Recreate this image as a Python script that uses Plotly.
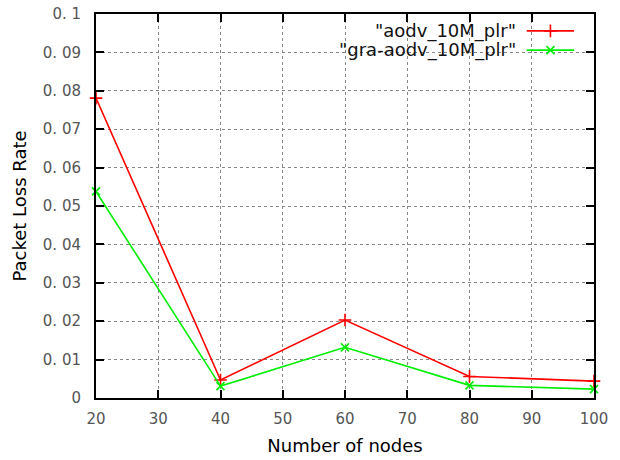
import plotly.graph_objects as go

nodes = [20, 40, 60, 80, 100]
aodv_plr = [0.0781, 0.0047, 0.0203, 0.0056, 0.0044]
gra_aodv_plr = [0.0538, 0.0031, 0.0132, 0.0033, 0.0023]
series_names = ['"aodv_10M_plr"', '"gra-aodv_10M_plr"']

y_ticks = [0, 0.01, 0.02, 0.03, 0.04, 0.05, 0.06, 0.07, 0.08, 0.09, 0.1]
y_tick_labels = ["0", "0. 01", "0. 02", "0. 03", "0. 04", "0. 05", "0. 06", "0. 07", "0. 08", "0. 09", "0. 1"]
x_ticks = [20, 30, 40, 50, 60, 70, 80, 90, 100]

RED = "#ff0000"
GREEN = "#00ee00"
FONT = "DejaVu Sans"

fig = go.Figure()
fig.add_trace(go.Scatter(
    x=nodes, y=aodv_plr, mode="lines+markers",
    line=dict(color=RED, width=1.6),
    marker=dict(symbol="cross-thin", size=9, line=dict(color=RED, width=1.6)),
    showlegend=False, cliponaxis=False))
fig.add_trace(go.Scatter(
    x=nodes, y=gra_aodv_plr, mode="lines+markers",
    line=dict(color=GREEN, width=1.6),
    marker=dict(symbol="x-thin", size=8, line=dict(color=GREEN, width=1.6)),
    showlegend=False, cliponaxis=False))

# legend samples on a hidden overlay axis in [0,1] units
leg_x = [0.865, 0.960]
leg_y = [0.956, 0.906]
for name, color, sym, yy, sz in [(series_names[0], RED, "cross-thin", leg_y[0], 9),
                                  (series_names[1], GREEN, "x-thin", leg_y[1], 8)]:
    fig.add_trace(go.Scatter(
        x=leg_x, y=[yy, yy], mode="lines", xaxis="x2", yaxis="y2",
        line=dict(color=color, width=1.6), showlegend=False, hoverinfo="skip"))
    fig.add_trace(go.Scatter(
        x=[sum(leg_x) / 2], y=[yy], mode="markers", xaxis="x2", yaxis="y2",
        marker=dict(symbol=sym, size=sz, line=dict(color=color, width=1.6)),
        showlegend=False, hoverinfo="skip"))
    fig.add_annotation(x=0.848, y=yy, xref="x2", yref="y2", text=name,
                       showarrow=False, xanchor="right", yanchor="middle",
                       font=dict(family=FONT, size=18, color="#111"))

axis_common = dict(
    showline=True, linecolor="black", linewidth=2, mirror="allticks",
    ticks="inside", ticklen=8, tickwidth=2, tickcolor="black",
    showgrid=True, gridcolor="#888", griddash="dot", gridwidth=1,
    zeroline=False, automargin=False,
    tickfont=dict(family=FONT, size=15, color="#555"),
)

fig.update_layout(
    width=620, height=460,
    margin=dict(l=96, r=26, t=14, b=62),
    paper_bgcolor="white", plot_bgcolor="white",
    xaxis=dict(range=[20, 100], tickvals=x_ticks, ticklabelstandoff=6,
               title=dict(text="Number of nodes", font=dict(family=FONT, size=18, color="black"), standoff=12),
               **axis_common),
    yaxis=dict(range=[0, 0.1], tickvals=y_ticks, ticktext=y_tick_labels, ticklabelstandoff=10,
               title=dict(text="Packet Loss Rate", font=dict(family=FONT, size=18, color="black"), standoff=12),
               **axis_common),
    xaxis2=dict(range=[0, 1], overlaying="x", visible=False, fixedrange=True),
    yaxis2=dict(range=[0, 1], overlaying="y", visible=False, fixedrange=True),
    showlegend=False,
)

fig.write_html("out.html", config={"displayModeBar": False},
               post_script="document.body.style.margin='0';document.body.style.overflow='hidden';")
